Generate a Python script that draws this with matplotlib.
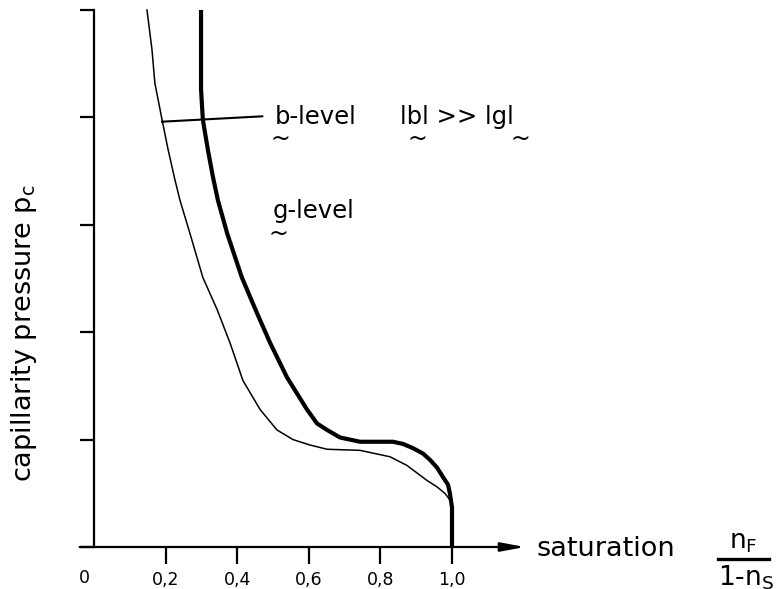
import numpy as np
import matplotlib
matplotlib.use('Agg')
import matplotlib.pyplot as plt
from matplotlib.lines import Line2D

# curves: saturation vs capillarity pressure
sat_g = [0.148, 0.162, 0.170, 0.190, 0.207, 0.226, 0.240, 0.268, 0.304, 0.344, 0.380,
         0.416, 0.464, 0.511, 0.556, 0.603, 0.651, 0.743, 0.827, 0.874, 0.902, 0.930,
         0.958, 0.980, 0.994, 1.0]
pc_g = [5.0, 4.63, 4.32, 3.98, 3.70, 3.42, 3.23, 2.92, 2.51, 2.21, 1.90,
        1.55, 1.28, 1.09, 1.0, 0.95, 0.91, 0.90, 0.84, 0.76, 0.69, 0.62,
        0.56, 0.50, 0.44, 0.37]

sat_b = [0.299, 0.299, 0.304, 0.318, 0.332, 0.346, 0.372, 0.413, 0.455, 0.492, 0.539,
         0.595, 0.623, 0.651, 0.687, 0.715, 0.743, 0.835, 0.863, 0.891, 0.919, 0.939,
         0.958, 0.975, 0.989, 0.994, 1.0, 1.0]
pc_b = [5.0, 4.26, 3.98, 3.70, 3.45, 3.23, 2.92, 2.51, 2.18, 1.90, 1.58,
        1.28, 1.15, 1.09, 1.02, 1.0, 0.98, 0.98, 0.96, 0.92, 0.87, 0.81,
        0.74, 0.65, 0.58, 0.50, 0.37, 0.0]

xticks = [0.2, 0.4, 0.6, 0.8, 1.0]
xticklabels = ['0,2', '0,4', '0,6', '0,8', '1,0']
yticks = [0, 1, 2, 3, 4, 5]

plt.rcParams['font.family'] = ['DejaVu Sans']

fig = plt.figure(figsize=(7.78, 5.89), dpi=100)
ax = fig.add_axes([94/778, 42/589, 436/778, 537/589])
ax.set_xlim(0, 436/358)
ax.set_ylim(0, 5)

# curves
ax.plot(sat_g, pc_g, color='k', lw=1.1, clip_on=False)
ax.plot(sat_b, pc_b, color='k', lw=3.0, clip_on=False, solid_capstyle='butt')

# axes: left spine with outward ticks, bottom as an arrow
for s in ['top', 'right', 'bottom']:
    ax.spines[s].set_visible(False)
ax.spines['left'].set_linewidth(1.6)
ax.set_yticks(yticks)
ax.set_yticklabels([])
ax.tick_params(axis='y', direction='out', length=10, width=1.6)
ax.set_xticks(xticks)
ax.set_xticklabels(xticklabels, fontsize=12.5)
ax.tick_params(axis='x', direction='out', length=12, width=1.6, pad=5)
ax.text(-0.028, -0.29, '0', fontsize=12.5, ha='center', va='center')

ax.annotate('', xy=(431/358, 0), xytext=(-0.04, 0),
            arrowprops=dict(arrowstyle='-|>,head_length=1.45,head_width=0.27',
                            lw=1.6, color='k', mutation_scale=10,
                            shrinkA=0, shrinkB=0),
            annotation_clip=False)

# labels
fig.text(536/778, 1 - 549/589, 'saturation', fontsize=19.5, ha='left', va='center')
fig.text(743/778, 1 - 542/589, r'n$_\mathrm{F}$', fontsize=19, ha='center', va='center')
fig.add_artist(Line2D([718/778, 769/778], [1 - 559/589, 1 - 559/589],
                      color='k', lw=2.4, transform=fig.transFigure))
fig.text(718/778, 1 - 578/589, r'1-n$_\mathrm{S}$', fontsize=19, ha='left', va='center')
fig.text(24/778, 1 - 333/589, r'capillarity pressure p$_\mathrm{c}$', fontsize=19.5,
         rotation=90, ha='center', va='center')

# leader line and curve names
ax.plot([0.19, 0.47], [3.96, 4.01], color='k', lw=1.5)
ax.text(0.506, 4.0, 'b-level', fontsize=17.5, ha='left', va='center')
ax.text(0.855, 4.0, 'lbl >> lgl', fontsize=17.5, ha='left', va='center')
ax.text(0.50, 3.13, 'g-level', fontsize=17.5, ha='left', va='center')
for tx, ty in [(0.52, 3.80), (0.903, 3.80), (1.19, 3.80), (0.515, 2.92)]:
    ax.text(tx, ty, '~', fontsize=17, ha='center', va='center')

plt.savefig('out.png', dpi=100)
